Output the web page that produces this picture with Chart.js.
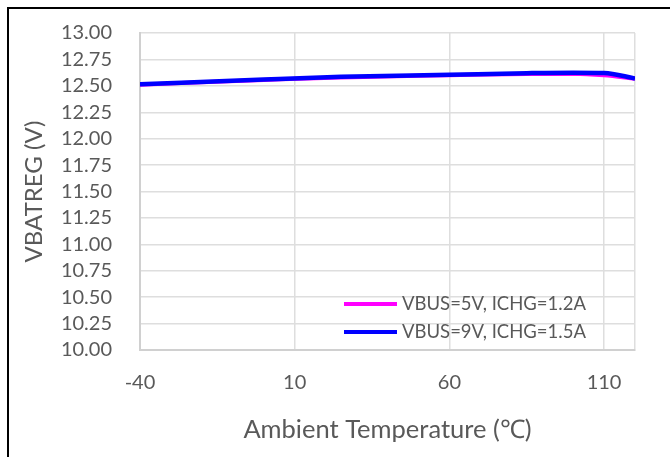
<!DOCTYPE html>
<html>
<head>
<meta charset="utf-8">
<script src="https://cdn.jsdelivr.net/npm/chart.js@4/dist/chart.umd.min.js"></script>
<style>
  html, body { margin: 0; padding: 0; background: #fff; overflow: hidden; }
  #wrap { position: relative; width: 670px; height: 457px; }
  #frame {
    position: absolute; left: 7px; top: 7px; width: 700px; height: 500px;
    border-left: 2px solid #000; border-top: 2px solid #000;
    pointer-events: none;
  }
  canvas { position: absolute; left: 0; top: 0; }
</style>
</head>
<body>
<div id="wrap">
  <canvas id="chart" width="670" height="457"></canvas>
  <div id="frame"></div>
</div>
<script>
// ── data ────────────────────────────────────────────────────────────────────
const temps  = [-40, 0, 25, 60, 85, 100, 110, 120];
const vbus5V = [12.511, 12.555, 12.58, 12.6, 12.613, 12.615, 12.6, 12.566];
const vbus9V = [12.515, 12.56, 12.585, 12.605, 12.62, 12.625, 12.622, 12.57];

const seriesLabels = ['VBUS=5V, ICHG=1.2A', 'VBUS=9V, ICHG=1.5A'];
const xTicks = [-40, 10, 60, 110];
const xMin = -40, xMax = 120;
const yMin = 10, yMax = 13, yStep = 0.25;

const TEXT = '#595959';
const FONT = 'Lato, "Open Sans", sans-serif';

// Legend drawn inside the plot, bottom right (Excel style)
const innerLegend = {
  id: 'innerLegend',
  afterDatasetsDraw(chart) {
    const { ctx } = chart;
    const x1 = 344, x2 = 397, tx = 402;
    const rows = [304, 332];
    ctx.save();
    ctx.font = '18.5px ' + FONT;
    ctx.textBaseline = 'middle';
    chart.data.datasets.forEach((ds, i) => {
      const y = rows[i];
      ctx.strokeStyle = ds.borderColor;
      ctx.lineWidth = 4;
      ctx.beginPath();
      ctx.moveTo(x1, y);
      ctx.lineTo(x2, y);
      ctx.stroke();
      ctx.fillStyle = TEXT;
      ctx.fillText(ds.label, tx, y);
    });
    ctx.restore();
  },
};

const toXY = (ys) => temps.map((t, i) => ({ x: t, y: ys[i] }));

new Chart(document.getElementById('chart'), {
  type: 'line',
  data: {
    datasets: [
      // order: blue (lower order) is painted over magenta, as in the source
      { label: seriesLabels[0], data: toXY(vbus5V), borderColor: '#ff00ff', borderWidth: 4, order: 2 },
      { label: seriesLabels[1], data: toXY(vbus9V), borderColor: '#0000ff', borderWidth: 4.5, order: 1 },
    ],
  },
  options: {
    responsive: false,
    animation: false,
    layout: { padding: { top: 33, right: 35, left: 0, bottom: 0 } },
    elements: {
      point: { radius: 0 },
      line:  { tension: 0.3, cubicInterpolationMode: 'monotone', fill: false },
    },
    plugins: {
      legend:  { display: false },
      tooltip: { enabled: false },
    },
    scales: {
      x: {
        type: 'linear',
        min: xMin,
        max: xMax,
        afterBuildTicks: (s) => { s.ticks = [...xTicks, xMax].map((v) => ({ value: v })); },
        afterFit: (s) => { s.height = 107; },
        ticks: {
          color: TEXT,
          font: { family: FONT, size: 20 },
          padding: 21,
          maxRotation: 0,
          autoSkip: false,
          callback: (v) => (xTicks.includes(v) ? String(v) : ''),
        },
        grid:   { color: '#dedede', lineWidth: 1.5, drawTicks: false },
        border: { color: '#d0d0d0', width: 2 },
        title: {
          display: true,
          text: 'Ambient Temperature (℃)',
          color: TEXT,
          font: { family: FONT, size: 25.5 },
          padding: { top: 0, bottom: 12 },
        },
      },
      y: {
        min: yMin,
        max: yMax,
        // tick padding would otherwise be added above/below the plot
        afterFit: (s) => { s.width = 140; s.paddingTop = 0; s.paddingBottom = 0; },
        ticks: {
          stepSize: yStep,
          color: TEXT,
          font: { family: FONT, size: 20 },
          padding: 28,
          autoSkip: false,
          callback: (v) => Number(v).toFixed(2),
        },
        grid:   { color: '#dedede', lineWidth: 1.5, drawTicks: false },
        border: { color: '#d0d0d0', width: 2 },
        title: {
          display: true,
          text: 'VBATREG (V)',
          color: TEXT,
          font: { family: FONT, size: 24 },
          padding: { top: 20, bottom: 0 },
        },
      },
    },
  },
  plugins: [innerLegend],
});
</script>
</body>
</html>
